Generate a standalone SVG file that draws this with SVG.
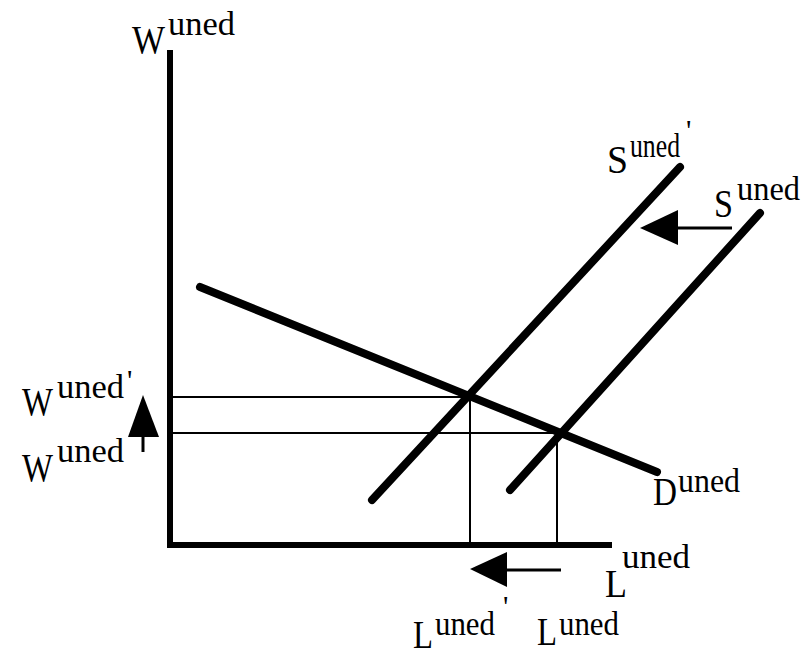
<svg xmlns="http://www.w3.org/2000/svg" width="805" height="658" viewBox="0 0 805 658">
<style>
text{font-family:"Liberation Serif","Times New Roman",serif;fill:#000;font-size:41px}
.sup{font-size:34px}
.ap{font-size:30px}
.thick{stroke:#000;stroke-width:8;stroke-linecap:round;fill:none}
.axis{stroke:#000;stroke-width:6;fill:none}
.thin{stroke:#000;stroke-width:2;fill:none}
.arr{stroke:#000;stroke-width:3;fill:none}
</style>
<rect width="805" height="658" fill="#fff"/>
<g id="axes">
<line class="axis" x1="170" y1="50" x2="170" y2="548"/>
<line class="axis" x1="167" y1="545" x2="612" y2="545"/>
</g>
<g id="connectors">
<line class="thin" x1="170" y1="397" x2="467" y2="397"/>
<line class="thin" x1="170" y1="433" x2="557" y2="433"/>
<line class="thin" x1="470" y1="397" x2="470" y2="545"/>
<line class="thin" x1="557" y1="433" x2="557" y2="545"/>
<line class="arr" x1="143" y1="452" x2="143" y2="430"/>
<polygon points="143,395 128,437 159,437"/>
<line class="arr" x1="732" y1="228" x2="675" y2="228"/>
<polygon points="640,228 678,210 678,245"/>
<line class="arr" x1="561" y1="570" x2="505" y2="570"/>
<polygon points="470,569 507,552 507,587"/>
</g>
<g id="D-curve"><line class="thick" x1="200" y1="287" x2="657" y2="472"/></g>
<g id="S-prime-curve"><line class="thick" x1="372" y1="500" x2="680" y2="167"/></g>
<g id="S-curve"><line class="thick" x1="510" y1="490" x2="760" y2="213"/></g>
<g id="label-W-axis"><text x="132" y="53"><tspan textLength="33" lengthAdjust="spacingAndGlyphs">W</tspan><tspan class="sup" x="168" y="35" textLength="67" lengthAdjust="spacingAndGlyphs">uned</tspan></text></g>
<g id="label-W-prime"><text x="22" y="415"><tspan textLength="31" lengthAdjust="spacingAndGlyphs">W</tspan><tspan class="sup" x="57" y="398" textLength="67" lengthAdjust="spacingAndGlyphs">uned</tspan><tspan class="ap" x="127" y="390">'</tspan></text></g>
<g id="label-W"><text x="22" y="481"><tspan textLength="31" lengthAdjust="spacingAndGlyphs">W</tspan><tspan class="sup" x="57" y="462" textLength="67" lengthAdjust="spacingAndGlyphs">uned</tspan></text></g>
<g id="label-S-prime"><text x="607" y="173"><tspan textLength="21" lengthAdjust="spacingAndGlyphs">S</tspan><tspan class="sup" x="630" y="157" textLength="50" lengthAdjust="spacingAndGlyphs">uned</tspan><tspan class="ap" x="686" y="140">'</tspan></text></g>
<g id="label-S"><text x="714" y="217"><tspan textLength="19" lengthAdjust="spacingAndGlyphs">S</tspan><tspan class="sup" x="737" y="200" textLength="63" lengthAdjust="spacingAndGlyphs">uned</tspan></text></g>
<g id="label-D"><text x="653" y="505"><tspan textLength="24" lengthAdjust="spacingAndGlyphs">D</tspan><tspan class="sup" x="678" y="492" textLength="62" lengthAdjust="spacingAndGlyphs">uned</tspan></text></g>
<g id="label-L-axis"><text x="605" y="597"><tspan textLength="22" lengthAdjust="spacingAndGlyphs">L</tspan><tspan class="sup" x="622" y="568" textLength="68" lengthAdjust="spacingAndGlyphs">uned</tspan></text></g>
<g id="label-L-prime"><text x="413" y="648"><tspan textLength="20" lengthAdjust="spacingAndGlyphs">L</tspan><tspan class="sup" x="435" y="635" textLength="60" lengthAdjust="spacingAndGlyphs">uned</tspan><tspan class="ap" x="503" y="616">'</tspan></text></g>
<g id="label-L"><text x="537" y="645"><tspan textLength="20" lengthAdjust="spacingAndGlyphs">L</tspan><tspan class="sup" x="559" y="635" textLength="60" lengthAdjust="spacingAndGlyphs">uned</tspan></text></g>
</svg>
